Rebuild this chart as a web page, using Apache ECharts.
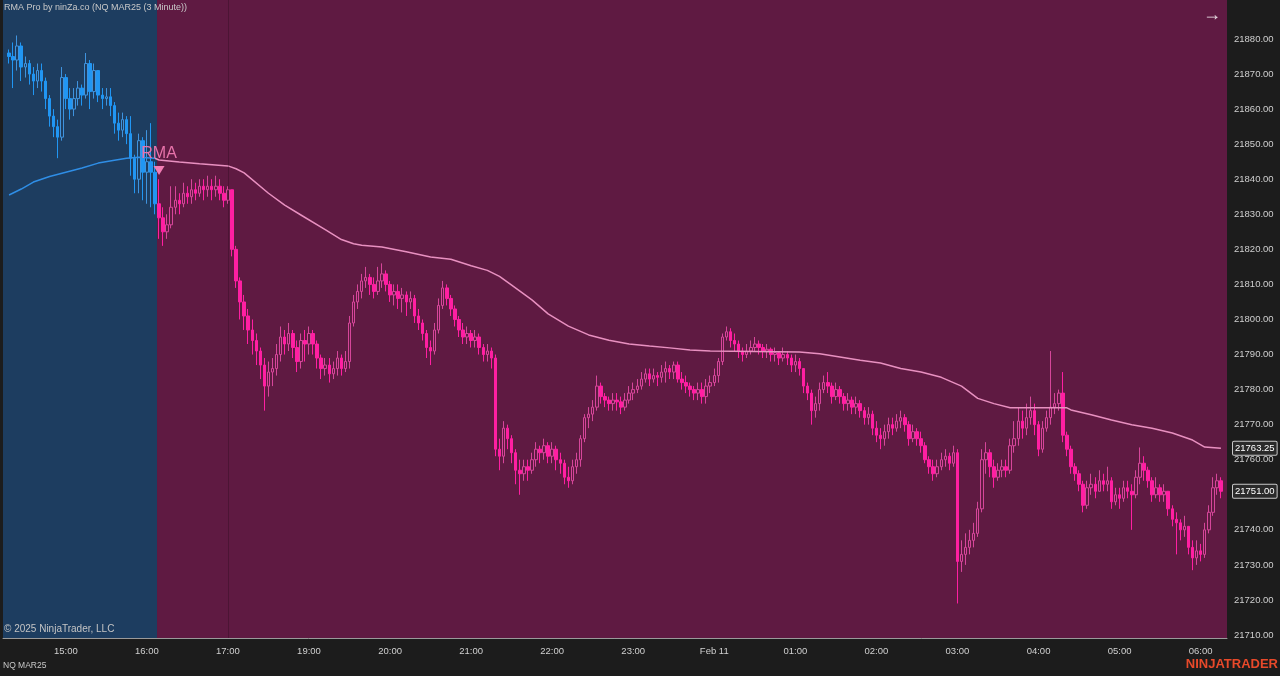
<!DOCTYPE html>
<html>
<head>
<meta charset="utf-8">
<title>RMA Pro by ninZa.co (NQ MAR25 (3 Minute))</title>
<script src="https://cdn.jsdelivr.net/npm/echarts@6/dist/echarts.min.js"></script>
<style>
  html, body { margin: 0; padding: 0; background: #1c1c1c; }
  #chart { width: 1280px; height: 676px; }
</style>
</head>
<body>
<div id="chart"></div>
<script>
// bar slots: 14:15 .. 17:00, then the session reopens at 18:03 and runs to 06:18
const categories = [];
for (let i = 0; i < 302; i++) {
  const m = i <= 55 ? 14 * 60 + 15 + 3 * i : 18 * 60 + 3 + 3 * (i - 56);
  const h = Math.floor(m / 60) % 24, mm = m % 60;
  categories.push(String(h).padStart(2, '0') + ':' + String(mm).padStart(2, '0'));
}
const xTickLabels = ['15:00', '16:00', '17:00', '19:00', '20:00', '21:00', '22:00', '23:00',
  '00:00', '01:00', '02:00', '03:00', '04:00', '05:00', '06:00'];
const yTickLabels = [21710, 21720, 21730, 21740, 21750, 21760, 21770, 21780, 21790,
  21800, 21810, 21820, 21830, 21840, 21850, 21860, 21870, 21880];

// candles, slot 1 .. 300 (each bar opens at the previous close)
const firstBar = 1;
const firstOpen = 21876;
const blueEnd = 37; // last bar of the bullish (blue) regime
const closes = [
  21875, 21874, 21878, 21872, 21873, 21870, 21868, 21871, 21868, 21863,
  21858, 21855, 21852, 21869, 21863, 21860, 21863, 21866, 21864, 21873,
  21865, 21871, 21864, 21863, 21863.5, 21861, 21856, 21854, 21857, 21853,
  21846, 21840, 21851, 21842, 21845, 21842, 21833, 21829, 21825, 21827,
  21832, 21834, 21833, 21836, 21835, 21837, 21836, 21838, 21837, 21838,
  21837, 21838, 21836, 21834, 21837, 21820, 21811, 21805, 21801, 21797,
  21794, 21791, 21787, 21781, 21785, 21786, 21790, 21795, 21793, 21796,
  21792, 21788, 21794, 21793, 21796, 21793, 21789, 21786, 21787, 21784.5,
  21786, 21789, 21786, 21788, 21799, 21805, 21808, 21811, 21812, 21810,
  21808, 21811, 21813, 21810, 21807, 21808, 21806, 21807, 21805, 21806,
  21801, 21799, 21796, 21792, 21791, 21797, 21804, 21809, 21806, 21803,
  21800, 21797, 21795, 21796, 21794, 21795, 21792, 21790, 21791, 21789,
  21763, 21761, 21769, 21766, 21762, 21757, 21756, 21758, 21757, 21760,
  21763, 21762, 21764, 21761, 21763, 21760, 21759, 21755, 21754, 21758,
  21760, 21766, 21772, 21773, 21775, 21781, 21778, 21777, 21776, 21777,
  21776.5, 21775, 21777, 21779, 21780, 21781, 21783, 21784.5, 21783, 21784,
  21783.5, 21785, 21786, 21785, 21787, 21783, 21782, 21781, 21780, 21779,
  21780, 21778, 21781, 21782, 21784, 21788, 21795, 21796.5, 21794, 21793,
  21791, 21790, 21791, 21792, 21793, 21792, 21791, 21791.5, 21790, 21790.5,
  21789, 21790, 21789, 21787, 21788, 21786, 21781, 21779, 21774, 21776,
  21780, 21782, 21781, 21778, 21780, 21778, 21776, 21777, 21775, 21776,
  21774, 21772, 21773, 21769, 21767, 21766, 21768, 21770, 21769, 21771,
  21772, 21770, 21766, 21768, 21766, 21764, 21760, 21758, 21756, 21758,
  21760, 21761, 21759, 21762, 21731, 21733, 21735, 21737, 21739, 21746,
  21760, 21762, 21758, 21755, 21757, 21758, 21757, 21764, 21766, 21771,
  21769, 21772, 21774, 21770, 21763, 21769, 21772, 21775, 21776, 21779,
  21767, 21763, 21758, 21756, 21753, 21747, 21752, 21753, 21751, 21754,
  21753, 21754, 21748, 21750, 21749, 21752, 21751, 21750, 21755, 21759,
  21757, 21754, 21750, 21752, 21750, 21751, 21746, 21743, 21742, 21740,
  21741, 21735, 21732, 21734, 21733, 21740, 21745, 21752, 21754, 21751
];
const highs = [
  21877, 21879, 21881, 21879, 21875, 21874, 21872, 21873, 21873, 21869,
  21864, 21860, 21857, 21872, 21870, 21866, 21866, 21868, 21867, 21876,
  21874, 21873, 21871, 21866, 21866, 21866, 21862, 21859, 21859, 21858,
  21858, 21847, 21853, 21852, 21854, 21856, 21845, 21840, 21832, 21830,
  21838, 21838, 21836, 21839, 21838, 21840, 21839, 21840, 21840, 21841,
  21840, 21841, 21840, 21838, 21838, 21837, 21821, 21812, 21807, 21803,
  21800, 21796, 21792, 21789, 21788, 21789, 21793, 21798, 21797, 21799,
  21797, 21794, 21796, 21797, 21798, 21797, 21794, 21790, 21789, 21789,
  21788, 21791, 21790, 21791, 21801, 21807, 21810, 21813, 21815, 21813,
  21812, 21815, 21816, 21814, 21811, 21810, 21810, 21809, 21808, 21808,
  21807, 21803, 21800, 21797, 21794, 21799, 21806, 21811, 21810, 21807,
  21804, 21801, 21799, 21798, 21797, 21797, 21796, 21793, 21793, 21792,
  21790, 21766, 21771, 21770, 21767, 21763, 21760, 21760, 21760, 21762,
  21765, 21764, 21766, 21765, 21765, 21764, 21762, 21760, 21758, 21760,
  21762, 21767, 21773, 21775, 21777, 21784, 21782, 21779, 21778, 21779,
  21779, 21778, 21779, 21781, 21782, 21783, 21785, 21786, 21786, 21786,
  21785, 21787, 21788, 21787, 21788, 21788, 21785, 21784, 21782, 21781,
  21782, 21782, 21783, 21784, 21786, 21789, 21796, 21798, 21797.5, 21796,
  21794, 21792, 21793, 21794, 21795, 21794, 21793, 21793, 21792, 21792,
  21791, 21792, 21791, 21790, 21790, 21789, 21786, 21782, 21780, 21778,
  21782, 21784, 21785, 21782, 21782, 21781, 21779, 21779, 21778, 21778,
  21777, 21775, 21775, 21774, 21771, 21769, 21770, 21772, 21772, 21773,
  21774, 21773, 21771, 21770, 21769, 21768, 21765, 21761, 21760, 21760,
  21762, 21763, 21762, 21764, 21763, 21737, 21739, 21740, 21742, 21748,
  21763, 21765, 21763, 21760, 21759, 21760, 21760, 21766, 21771, 21775,
  21774, 21776, 21778, 21776, 21771, 21771, 21774, 21791, 21779, 21780,
  21785, 21768, 21764, 21759, 21757, 21754, 21754, 21756, 21755, 21757,
  21756, 21758, 21755, 21752, 21752, 21754, 21754, 21753, 21757, 21763.5,
  21761, 21758, 21755, 21755, 21753, 21753, 21751, 21747, 21745, 21743,
  21744, 21741, 21737, 21737, 21736, 21742, 21747, 21755, 21756, 21755
];
const lows = [
  21873, 21866, 21871, 21868, 21869, 21867, 21864, 21866, 21865, 21860,
  21855, 21852, 21846, 21851, 21860, 21857, 21858, 21861, 21861, 21863,
  21860, 21863, 21862, 21860, 21861, 21858, 21853, 21851, 21852, 21850,
  21841, 21836, 21836, 21834, 21833, 21832, 21830, 21823, 21821, 21823,
  21826, 21830, 21830, 21832, 21833, 21833, 21834, 21835, 21834, 21835,
  21834, 21835, 21834, 21832, 21833, 21818, 21809, 21800, 21797, 21793,
  21790, 21787, 21783, 21774, 21778, 21781, 21784, 21788, 21790, 21791,
  21789, 21785, 21786, 21788, 21790, 21790, 21786, 21783, 21784, 21782,
  21783, 21784, 21784, 21785, 21786, 21798, 21803, 21806, 21809, 21807,
  21806, 21807, 21809, 21808, 21805, 21804, 21803, 21802, 21801, 21803,
  21799, 21797, 21794, 21789, 21787, 21790, 21796, 21803, 21804, 21801,
  21798, 21795, 21793, 21793, 21792, 21792, 21790, 21788, 21788, 21786,
  21761, 21757, 21759, 21763, 21759, 21753, 21750, 21754, 21754, 21756,
  21758, 21759, 21760, 21759, 21759, 21757, 21756, 21753, 21752, 21753,
  21756, 21758, 21765, 21769, 21771, 21774, 21776, 21775, 21774, 21774,
  21774, 21773, 21774, 21776, 21777, 21779, 21780, 21782, 21781, 21782,
  21781, 21782, 21782, 21783, 21783, 21782, 21780, 21779, 21778, 21777,
  21777, 21776, 21776, 21779, 21781, 21782, 21787, 21794, 21792, 21791,
  21789, 21788, 21789, 21790, 21791, 21790, 21789, 21789, 21788, 21788,
  21787, 21788, 21787, 21785, 21785, 21784, 21779, 21777, 21770, 21772,
  21774, 21779, 21779, 21776, 21777, 21776, 21774, 21774, 21773, 21773,
  21772, 21770, 21770, 21767, 21765, 21763, 21764, 21766, 21767, 21768,
  21769, 21768, 21764, 21765, 21764, 21762, 21759, 21756, 21754, 21755,
  21757, 21758, 21757, 21758, 21719, 21728, 21730, 21733, 21735, 21738,
  21745, 21756, 21755, 21752, 21754, 21755, 21755, 21756, 21762, 21764,
  21766, 21767, 21770, 21767, 21761, 21762, 21768, 21770, 21773, 21774,
  21765, 21761, 21756, 21754, 21751, 21745, 21746, 21750, 21749, 21751,
  21751, 21751, 21746, 21747, 21746, 21748, 21749, 21740, 21749, 21753,
  21754, 21752, 21748, 21749, 21748, 21748, 21744, 21741, 21733, 21737,
  21738, 21733, 21728.5, 21730, 21731, 21732, 21739, 21744, 21750, 21749
];

// RMA line, [slot, value]
const rmaBlue = [[1, 21835.5], [4, 21837.2], [7, 21839.2], [11, 21840.8], [15, 21842],
  [19, 21843.2], [23, 21844.6], [27, 21845.4], [30, 21846], [33, 21846.3], [37, 21846]];
const rmaPink = [[37, 21846], [38, 21845.5], [43, 21844.9], [48, 21844.4], [55, 21843.8],
  [57, 21843], [59, 21841.8], [65, 21836], [69, 21832.6], [73, 21829.8], [79, 21825.6],
  [83, 21822.8], [86, 21821.6], [88, 21821.2], [93, 21820.7], [99, 21819.3], [105, 21817.8],
  [110, 21817.2], [115, 21815.3], [119, 21814], [122, 21812.3], [125, 21809.8], [130, 21805.6],
  [134, 21801.6], [139, 21798.1], [144, 21795.6], [149, 21794.1], [154, 21793], [159, 21792.4],
  [164, 21791.9], [169, 21791.3], [174, 21791], [196, 21790.7], [201, 21790.2], [206, 21789.3],
  [211, 21788.4], [216, 21787.6], [221, 21786], [226, 21785], [231, 21783.5], [236, 21781],
  [240, 21777.5], [244, 21776], [248, 21774.8], [262, 21774.8], [263, 21774.2], [268, 21772.8],
  [273, 21771.3], [278, 21770], [283, 21769], [288, 21767.6], [293, 21765.6], [296, 21763.6],
  [300, 21763.25]];

const priceMarks = [21763.25, 21751.00];
const signalBar = 38, signalPrice = 21842.5;
const sessionBreak = 55;

const FONT = '"Liberation Sans", Arial, sans-serif';

const ohlc = closes.map((c, k) => [k === 0 ? firstOpen : closes[k - 1], c, lows[k], highs[k]]);
const blueData = [], pinkData = [];
for (let i = 0; i < categories.length; i++) {
  const k = i - firstBar;
  const d = (k >= 0 && k < ohlc.length) ? ohlc[k] : '-';
  blueData.push(i <= blueEnd ? d : '-');
  pinkData.push(i > blueEnd ? d : '-');
}

const chart = echarts.init(document.getElementById('chart'));
chart.setOption({
  backgroundColor: '#1c1c1c',
  animation: false,
  title: {
    text: 'RMA Pro by ninZa.co (NQ MAR25 (3 Minute))',
    left: 4, top: 3, padding: 0,
    textStyle: { color: '#c8c8c8', fontSize: 9, fontWeight: 'normal', fontFamily: FONT }
  },
  grid: { left: 3, right: 53, top: 0, bottom: 38, show: true, backgroundColor: '#5f1a42', borderWidth: 0 },
  xAxis: [{
    type: 'category',
    data: categories,
    boundaryGap: true,
    axisLine: { lineStyle: { color: '#9a9a9a', width: 1 } },
    axisTick: {
      alignWithLabel: true, length: 4, lineStyle: { color: '#9a9a9a' },
      interval: (idx, v) => xTickLabels.includes(v)
    },
    axisLabel: {
      color: '#d0d0d0', fontSize: 9.5, fontFamily: FONT, margin: 8,
      interval: (idx, v) => xTickLabels.includes(v),
      formatter: v => (v === '00:00' ? 'Feb 11' : v)
    },
    splitLine: { show: false }
  }, {
    type: 'value', min: -0.5, max: categories.length - 0.5, show: false
  }],
  yAxis: {
    type: 'value',
    position: 'right',
    offset: 4,
    min: 21709.15,
    max: 21891.12,
    axisLine: { show: true, lineStyle: { color: '#a8a8a8' } },
    axisTick: { show: true, length: 4, lineStyle: { color: '#a8a8a8' }, customValues: yTickLabels },
    axisLabel: {
      color: '#cfcfcf', fontSize: 9.5, fontFamily: FONT, margin: 3,
      customValues: yTickLabels,
      formatter: v => v.toFixed(2)
    },
    splitLine: { show: false }
  },
  series: [
    {
      // regime background and session break
      type: 'line', xAxisIndex: 1, data: [], z: 1, silent: true,
      markArea: {
        silent: true,
        itemStyle: { color: '#1d3d60' },
        data: [[{ xAxis: -0.5 }, { xAxis: blueEnd + 0.5 }]]
      },
      markLine: {
        silent: true, symbol: 'none', label: { show: false },
        lineStyle: { color: 'rgba(0,0,0,0.2)', width: 1, type: 'solid' },
        data: [{ xAxis: sessionBreak }]
      }
    },
    {
      type: 'candlestick', name: 'blue', data: blueData, z: 3,
      barWidth: 3,
      itemStyle: { color: 'rgba(0,0,0,0)', borderColor: '#3f93de', color0: '#2196f3', borderColor0: '#2196f3', borderWidth: 1 }
    },
    {
      type: 'candlestick', name: 'pink', data: pinkData, z: 3,
      barWidth: 3,
      itemStyle: { color: 'rgba(0,0,0,0)', borderColor: '#d6469a', color0: '#ff1fa2', borderColor0: '#ff1fa2', borderWidth: 1 },
      markPoint: {
        symbol: 'triangle', symbolRotate: 180, symbolSize: [11, 9],
        itemStyle: { color: '#f27cb4' },
        label: { show: true, position: 'top', distance: 4, formatter: 'RMA', color: '#e873ab', fontSize: 16, fontFamily: FONT },
        data: [{ coord: [signalBar, signalPrice] }]
      },
      markLine: {
        silent: true, symbol: 'none',
        lineStyle: { color: 'rgba(0,0,0,0)', width: 1 },
        label: {
          show: true, position: 'end', distance: 6,
          formatter: p => Number(p.value).toFixed(2),
          color: '#ffffff', fontSize: 9.5, fontFamily: FONT,
          backgroundColor: '#2a2a2a', borderColor: '#c8c8c8', borderWidth: 1,
          borderRadius: 1, padding: [2, 2, 1, 2]
        },
        data: priceMarks.map(v => ({ yAxis: v }))
      }
    },
    {
      type: 'line', name: 'RMA blue', data: rmaBlue, z: 4,
      showSymbol: false, smooth: false,
      lineStyle: { color: '#2f8ee6', width: 1.5 }
    },
    {
      type: 'line', name: 'RMA', data: rmaPink, z: 4,
      showSymbol: false, smooth: false,
      lineStyle: { color: '#e890c0', width: 1.5 }
    }
  ],
  graphic: [
    { type: 'text', z: 100, left: 4, top: 624, style: { text: '\u00a9 2025 NinjaTrader, LLC', fill: '#c4c4c4', font: '10px ' + FONT } },
    { type: 'text', z: 100, left: 3, top: 661, style: { text: 'NQ MAR25', fill: '#c8c8c8', font: '8.5px ' + FONT } },
    { type: 'text', z: 100, right: 2, top: 658, style: { text: 'NINJATRADER', fill: '#e8492a', font: 'bold 13px ' + FONT } },
    { type: 'text', z: 100, left: 1203, top: 6, style: { text: '\u2192', fill: '#e8dde3', font: '18px ' + FONT } }
  ]
});
</script>
</body>
</html>
